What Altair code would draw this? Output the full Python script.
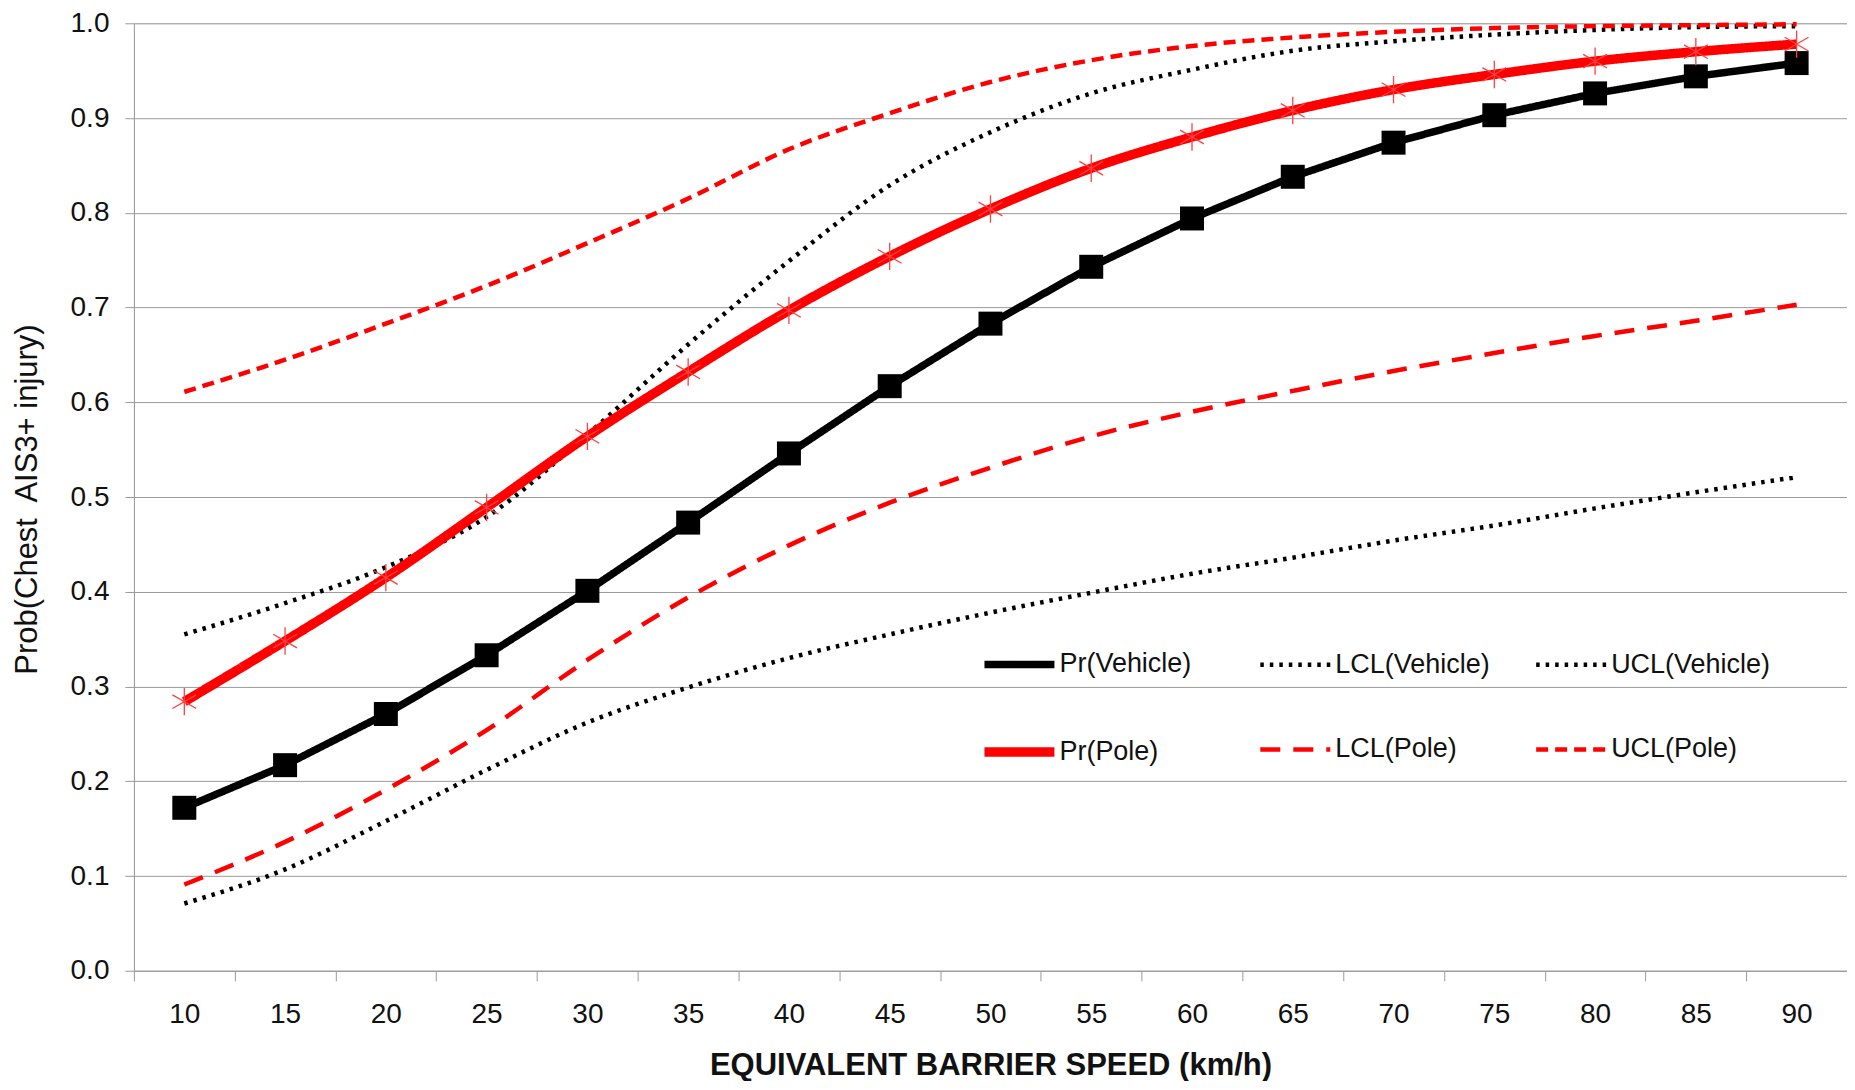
import altair as alt
import pandas as pd

speeds = [10, 15, 20, 25, 30, 35, 40, 45, 50, 55, 60, 65, 70, 75, 80, 85, 90]
pr_vehicle = [0.172, 0.217, 0.271, 0.333, 0.401, 0.473, 0.546, 0.617, 0.683, 0.743, 0.794, 0.838, 0.874, 0.903, 0.926, 0.944, 0.958]
lcl_vehicle = [0.071, 0.107, 0.158, 0.212, 0.262, 0.299, 0.330, 0.355, 0.378, 0.399, 0.419, 0.436, 0.454, 0.470, 0.488, 0.505, 0.521]
ucl_vehicle = [0.355, 0.388, 0.426, 0.479, 0.566, 0.661, 0.749, 0.829, 0.885, 0.926, 0.951, 0.971, 0.981, 0.988, 0.993, 0.996, 0.997]
pr_pole = [0.284, 0.348, 0.415, 0.489, 0.564, 0.632, 0.697, 0.754, 0.804, 0.847, 0.880, 0.908, 0.930, 0.946, 0.960, 0.970, 0.978]
lcl_pole = [0.091, 0.136, 0.191, 0.254, 0.328, 0.394, 0.449, 0.494, 0.531, 0.564, 0.590, 0.612, 0.633, 0.652, 0.670, 0.686, 0.703]
ucl_pole = [0.611, 0.645, 0.683, 0.723, 0.768, 0.815, 0.867, 0.905, 0.938, 0.961, 0.976, 0.985, 0.991, 0.995, 0.997, 0.998, 0.999]

series_names = ["Pr(Vehicle)", "LCL(Vehicle)", "UCL(Vehicle)", "Pr(Pole)", "LCL(Pole)", "UCL(Pole)"]
series_values = [pr_vehicle, lcl_vehicle, ucl_vehicle, pr_pole, lcl_pole, ucl_pole]
series_colors = ["#000000", "#000000", "#000000", "#FF0000", "#FF0000", "#FF0000"]
series_dash = [[1, 0], [3.5, 6], [3.5, 6], [1, 0], [20, 13], [12, 7]]
series_width = [7.5, 4.5, 4.5, 9.5, 4.5, 4.5]

rows = []
for name, vals in zip(series_names, series_values):
    for s, v in zip(speeds, vals):
        rows.append({"speed": s, "prob": v, "series": name})
df = pd.DataFrame(rows)

FONT = "Liberation Sans"

x_enc = alt.X(
    "speed:O",
    bandPosition=0.5,
    scale=alt.Scale(type="band", paddingInner=0, paddingOuter=0),
    axis=alt.Axis(
        title="EQUIVALENT BARRIER SPEED (km/h)",
        labelAngle=0,
        tickBand="extent",
        grid=False,
        domainColor="#9a9a9a",
        tickColor="#9a9a9a",
        tickSize=10,
        labelPadding=20,
        labelFontSize=28,
        labelFont=FONT,
        labelColor="#111111",
        titleFont=FONT,
        titleFontSize=31,
        titleFontWeight="bold",
        titleColor="#111111",
        titleY=95,
        titleBaseline="middle",
    ),
)
y_enc = alt.Y(
    "prob:Q",
    scale=alt.Scale(domain=[0, 1]),
    axis=alt.Axis(
        title="Prob(Chest\u00a0 AIS3+ injury)",
        values=[0, 0.1, 0.2, 0.3, 0.4, 0.5, 0.6, 0.7, 0.8, 0.9, 1.0],
        format=".1f",
        grid=True,
        gridColor="#9a9a9a",
        gridWidth=1,
        domainColor="#9a9a9a",
        tickColor="#9a9a9a",
        tickSize=9,
        labelPadding=16,
        labelFontSize=28,
        labelFont=FONT,
        labelColor="#111111",
        titleFont=FONT,
        titleFontSize=31,
        titleFontWeight="normal",
        titleColor="#111111",
        titleX=-106,
        titleY=476,
        titleAngle=270,
        titleBaseline="middle",
    ),
)

legend = alt.Legend(
    title=None,
    orient="none",
    legendX=846,
    legendY=600,
    columns=3,
    direction="horizontal",
    gridAlign="all",
    symbolType="stroke",
    symbolSize=4900,
    labelFontSize=27,
    labelFont=FONT,
    labelColor="#111111",
    labelOffset=0,
    columnPadding=32,
    rowPadding=30,
)

color_enc = alt.Color("series:N", scale=alt.Scale(domain=series_names, range=series_colors), legend=legend)
dash_enc = alt.StrokeDash("series:N", scale=alt.Scale(domain=series_names, range=series_dash), legend=legend)
width_enc = alt.StrokeWidth("series:N", scale=alt.Scale(type="ordinal", domain=series_names, range=series_width), legend=legend)

base = alt.Chart(df)

smooth_lines = base.transform_filter(
    alt.datum.series != "Pr(Vehicle)"
).mark_line(interpolate="monotone").encode(
    x=x_enc, y=y_enc, color=color_enc, strokeDash=dash_enc, strokeWidth=width_enc
)

straight_line = base.transform_filter(
    alt.datum.series == "Pr(Vehicle)"
).mark_line(interpolate="linear").encode(
    x=x_enc, y=y_enc, color=color_enc, strokeDash=dash_enc, strokeWidth=width_enc
)

squares = base.transform_filter(
    alt.datum.series == "Pr(Vehicle)"
).mark_point(shape="square", filled=True, size=576, opacity=1, color="#000000").encode(
    x=x_enc, y=y_enc
)

asterisks = base.transform_filter(
    alt.datum.series == "Pr(Pole)"
).mark_point(
    shape="M0,-1L0,1M-0.87,-0.5L0.87,0.5M-0.87,0.5L0.87,-0.5",
    filled=False, size=750, opacity=1, color="#FF4040", strokeWidth=1.3
).encode(x=x_enc, y=y_enc)

chart = alt.layer(smooth_lines, straight_line, squares, asterisks).properties(
    width=1714,
    height=948,
    autosize=alt.AutoSizeParams(type="none"),
    padding={"left": 126, "top": 15, "right": 0, "bottom": 110},
).configure_view(stroke=None).configure(background="white")

chart.save("out.html", embed_options={"renderer": "svg", "actions": False})
